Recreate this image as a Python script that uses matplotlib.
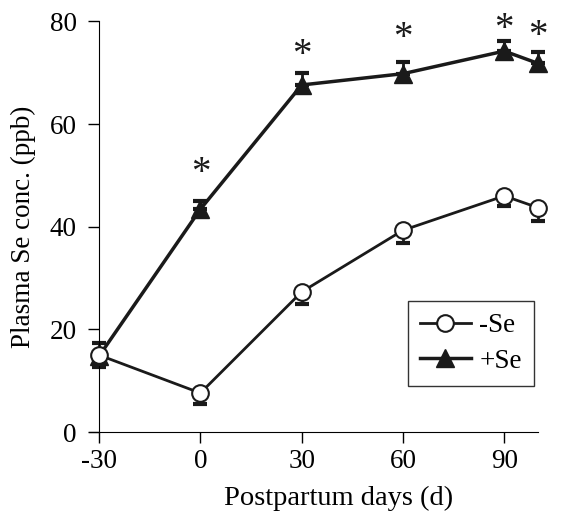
import matplotlib.pyplot as plt

days = [-30, 0, 30, 60, 90, 100]
minus_se = [15.0, 7.6, 27.3, 39.3, 46.0, 43.7]
minus_se_err = [2.3, 2.1, 2.4, 2.4, 1.9, 2.5]
plus_se = [14.8, 43.4, 67.6, 69.8, 74.2, 71.8]
plus_se_err = [2.5, 1.7, 2.4, 2.2, 1.9, 2.2]
star_days = [0, 30, 60, 90, 100]
star_y = [50.3, 73.4, 76.7, 78.5, 77.0]
xticks = [-30, 0, 30, 60, 90]
yticks = [0, 20, 40, 60, 80]

plt.rcParams['font.family'] = ['Liberation Serif', 'DejaVu Serif']
plt.rcParams['font.size'] = 19.5
plt.rcParams['axes.unicode_minus'] = False

fig = plt.figure(figsize=(5.7, 5.25), dpi=100)
ax = fig.add_axes([0.156, 0.177, 0.788, 0.7824])

ax.errorbar(days, minus_se, yerr=[minus_se_err, [0] * len(days)], fmt='none',
            ecolor='#1a1a1a', elinewidth=2, capsize=5, capthick=3, zorder=2,
            clip_on=False)
ax.errorbar(days, plus_se, yerr=[[0] * len(days), plus_se_err], fmt='none',
            ecolor='#1a1a1a', elinewidth=2, capsize=5, capthick=3, zorder=2,
            clip_on=False)
ax.plot(days, minus_se, color='#1a1a1a', lw=2, marker='o', ms=12,
        mfc='white', mec='#1a1a1a', mew=1.5, label='-Se', zorder=4, clip_on=False)
ax.plot(days, plus_se, color='#1a1a1a', lw=2.5, marker='^', ms=13,
        mfc='#1a1a1a', mec='#1a1a1a', label='+Se', zorder=3, clip_on=False)

for d, y in zip(star_days, star_y):
    ax.text(d, y, '*', ha='center', va='center', fontsize=28, color='#1a1a1a')

ax.set_xlim(-33, 100)
ax.set_ylim(0, 80)
ax.set_xticks(xticks)
ax.set_yticks(yticks)
ax.spines['top'].set_visible(False)
ax.spines['right'].set_visible(False)
ax.spines['left'].set_position(('data', -30))
ax.tick_params(direction='out', length=8, width=1)
ax.tick_params(axis='x', pad=4)
ax.tick_params(axis='y', pad=8)
ax.set_xlabel('Postpartum days (d)', fontsize=20.5)
ax.xaxis.set_label_coords(0.555, -0.132)
ax.set_ylabel('Plasma Se conc. (ppb)', labelpad=10)

leg = ax.legend(loc='lower right', bbox_to_anchor=(0.991, 0.112), frameon=True,
                fancybox=False, edgecolor='black', handlelength=1.9,
                handletextpad=0.3, borderpad=0.45, labelspacing=0.4,
                borderaxespad=0)
leg.get_frame().set_linewidth(1)

plt.savefig('out.png', dpi=100)
